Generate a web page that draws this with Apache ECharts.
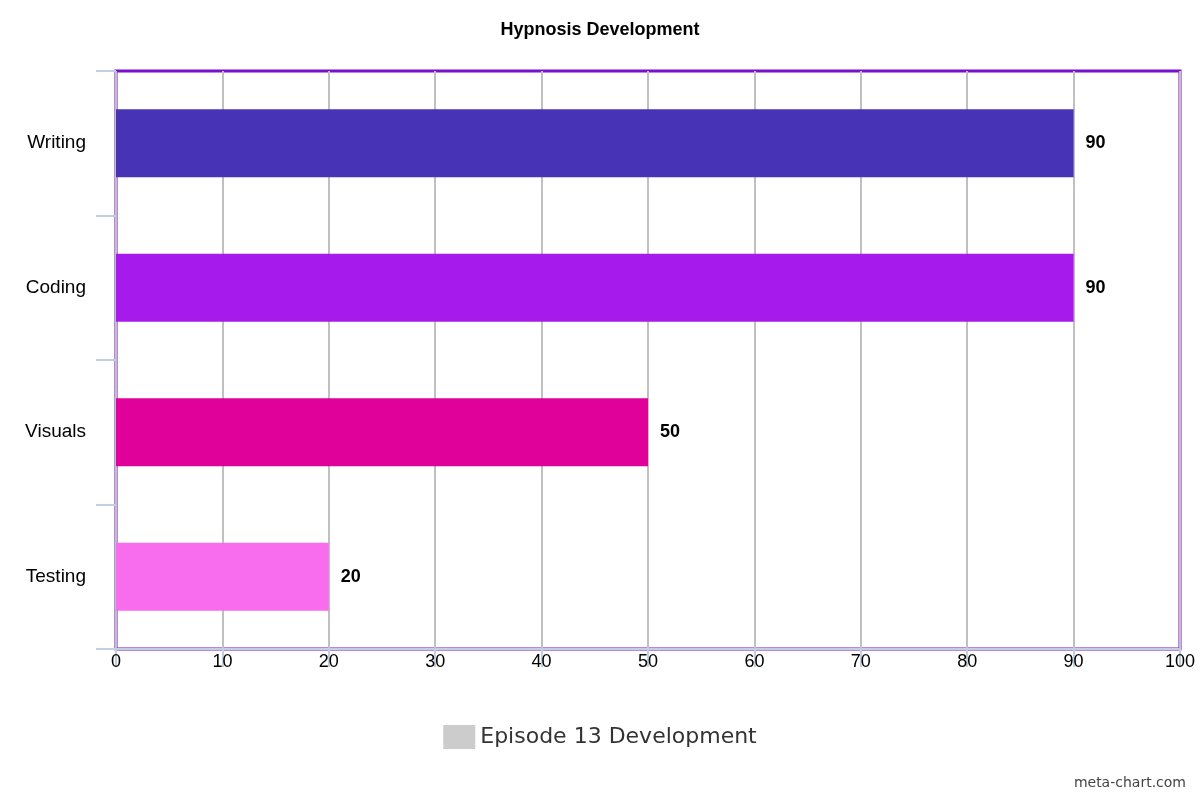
<html>
<head>
<meta charset="utf-8" />
<script src="https://cdn.jsdelivr.net/npm/echarts@6/dist/echarts.min.js"></script>
<style>html,body{margin:0;padding:0;background:#fff;}</style>
</head>
<body>
<div id="main" style="width:1200px;height:800px;"></div>
<script>
// data
var categories = ['Writing', 'Coding', 'Visuals', 'Testing'];
var values = [90, 90, 50, 20];
var barColors = ['#4733b5', '#a61bec', '#e0009a', '#f76ded'];
var seriesName = 'Episode 13 Development';

var chart = echarts.init(document.getElementById('main'));
var option = {
	backgroundColor: '#fff',
	title: {
		text: 'Hypnosis Development',
		left: 'center',
		top: 16,
		textStyle: { fontFamily: 'Liberation Sans', fontSize: 18, fontWeight: 'bold', color: '#000' }
	},
	legend: {
		bottom: 46,
		left: 'center',
		itemWidth: 32,
		itemHeight: 24,
		icon: 'rect',
		textStyle: { fontFamily: 'DejaVu Sans', fontSize: 22, color: '#333' },
		data: [{ name: seriesName, itemStyle: { color: '#cccccc' } }]
	},
	graphic: [{
		type: 'text', right: 14, bottom: 10,
		style: { text: 'meta-chart.com', fontFamily: 'DejaVu Sans', fontSize: 14, fill: '#444' }
	}],
	grid: {
		left: 116, right: 20, top: 71, bottom: 151,
		show: true, borderColor: '#7a0fd0', borderWidth: 3
	},
	xAxis: {
		type: 'value', min: 0, max: 100, interval: 10,
		axisLine: { show: true, lineStyle: { color: '#c0d0e0', width: 2 } },
		axisTick: { show: true, length: 18, lineStyle: { color: '#c0d0e0', width: 2 } },
		splitLine: { lineStyle: { color: '#c0c0c0', width: 2 } },
		axisLabel: { fontFamily: 'Liberation Sans', fontSize: 18, color: '#000', margin: 4 }
	},
	yAxis: {
		type: 'category', data: categories, inverse: true,
		axisLine: { show: false },
		axisTick: { show: true, length: 20, lineStyle: { color: '#c0d0e0', width: 2 } },
		axisLabel: { fontFamily: 'Liberation Sans', fontSize: 19, color: '#000', margin: 30 }
	},
	series: [{
		name: seriesName,
		type: 'bar',
		barWidth: '47%',
		itemStyle: { color: '#cccccc' },
		label: {
			show: true, position: 'right', distance: 12,
			fontFamily: 'Liberation Sans', fontSize: 18, fontWeight: 'bold', color: '#000'
		},
		data: values.map(function (v, i) {
			return { value: v, itemStyle: { color: barColors[i] } };
		})
	}]
};
chart.setOption(option);
</script>
</body>
</html>
